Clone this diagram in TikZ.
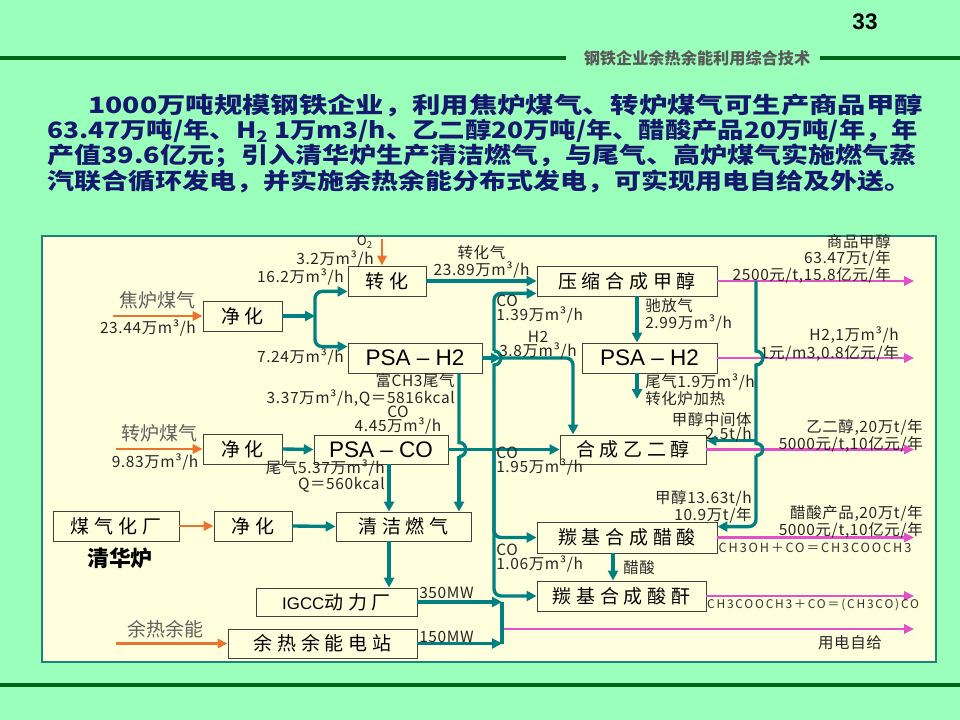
\documentclass[tikz,border=0pt]{standalone}
\usepackage{fontspec}
\setmainfont{Noto Sans CJK SC}
\newfontfamily\boxfont[LetterSpace=25]{Noto Sans CJK SC}
\newfontfamily\lblfont[LetterSpace=4]{Noto Sans CJK SC}
\newfontfamily\chemfont[LetterSpace=15]{Noto Sans CJK SC}
\newfontfamily\headfont[FakeStretch=1.2]{Noto Sans CJK SC}
\newfontfamily\headwide[FakeStretch=1.26]{Noto Sans CJK SC}
\newfontfamily\headnarrow[FakeStretch=1.17]{Noto Sans CJK SC}
\newfontfamily\latinfont{Liberation Sans}
\usetikzlibrary{positioning, arrows.meta, calc}

\definecolor{bggreen}{RGB}{153,255,187}
\definecolor{panelyellow}{RGB}{255,255,222}
\definecolor{panelline}{RGB}{30,130,120}
\definecolor{flowteal}{RGB}{0,128,128}
\definecolor{prodpink}{RGB}{228,80,200}
\definecolor{feedorange}{RGB}{236,115,45}
\definecolor{rulegreen}{RGB}{0,100,20}
\definecolor{headblue}{RGB}{20,25,110}
\definecolor{feedgray}{RGB}{95,95,95}

\begin{document}
\begin{tikzpicture}[x=0.025cm, y=-0.025cm,
    box/.style={draw=black!75, fill=panelyellow, line width=0.6pt, inner sep=0pt,
        minimum height=0.75cm, font=\boxfont\fontsize{13.5}{14}\selectfont},
    psabox/.style={box, font=\latinfont\fontsize{16}{16}\selectfont},
    head/.style={anchor=west, inner sep=0pt, text=headblue, font=\headfont\bfseries\fontsize{16}{18}\selectfont},
    lbl/.style={inner sep=0pt, text=black!85, font=\lblfont\fontsize{11}{10}\selectfont},
    feedlbl/.style={inner sep=0pt, text=feedgray, font=\fontsize{13.5}{14}\selectfont},
    chem/.style={inner sep=0pt, text=black!80, font=\chemfont\fontsize{9}{9}\selectfont},
    pipe/.style={draw=flowteal, line width=2.4pt},
    flow/.style={pipe, -{Triangle[length=7pt, width=7pt]}},
    prod/.style={draw=prodpink, line width=2pt, -{Triangle[length=7pt, width=6.5pt]}},
    feed/.style={draw=feedorange, line width=2pt, -{Triangle[length=7pt, width=6.5pt]}}
    ]

    % Slide
    \fill[bggreen] (0,0) rectangle (960,720);
    \useasboundingbox (0,0) rectangle (960,720);
    \draw[rulegreen, line width=2.8pt] (0,58) -- (566,58) (820,58) -- (960,58);
    \draw[rulegreen, line width=2.8pt] (0,685) -- (960,685);
    \node[font=\latinfont\bfseries\fontsize{16}{16}\selectfont] (pgnum) at (865,22) {33};
    \node[text=black!65, font=\bfseries\fontsize{11.5}{12}\selectfont] (subtitle) at (697,58) {钢铁企业余热余能利用综合技术};

    % Headline
    \node[head, font=\headwide\bfseries\fontsize{16}{18}\selectfont] (hd1) at (88,106) {1000万吨规模钢铁企业，利用焦炉煤气、转炉煤气可生产商品甲醇};
    \node[head, font=\headnarrow\bfseries\fontsize{16}{18}\selectfont] (hd2) at (47,131) {63.47万吨/年、H\textsubscript{2} 1万m3/h、乙二醇20万吨/年、醋酸产品20万吨/年，年};
    \node[head] (hd3) at (47,156) {产值39.6亿元；引入清华炉生产清洁燃气，与尾气、高炉煤气实施燃气蒸};
    \node[head] (hd4) at (47,181) {汽联合循环发电，并实施余热余能分布式发电，可实现用电自给及外送。};

    % Panel
    \draw[panelline, fill=panelyellow, line width=1.6pt] (42,236) rectangle (936,662);

    % Units
    \node[box, minimum width=1.95cm] (conv) at (387,281) {转化};
    \node[box, minimum width=4.5cm] (mesyn) at (627,281) {压缩合成甲醇};
    \node[box, minimum width=1.975cm] (purA) at (242.5,316) {净化};
    \node[psabox, minimum width=3.35cm] (psaA) at (415,358) {PSA – H2};
    \node[psabox, minimum width=3.375cm] (psaB) at (649.5,358) {PSA – H2};
    \node[box, minimum width=1.975cm] (purB) at (242.5,449) {净化};
    \node[psabox, minimum width=3.35cm, minimum height=0.725cm] (psaCO) at (381,449.5) {PSA – CO};
    \node[box, minimum width=3.65cm, minimum height=0.725cm] (egsyn) at (633,449.5) {合成乙二醇};
    \node[box, minimum width=3.15cm] (gasif) at (116,526) {煤气化厂};
    \node[box, minimum width=1.95cm] (purC) at (253,526) {净化};
    \node[box, minimum width=3.375cm, minimum height=0.725cm] (clean) at (403.5,526.5) {清洁燃气};
    \node[box, minimum width=4.5cm, minimum height=0.775cm] (acsyn) at (627,537.5) {羰基合成醋酸};
    \node[box, minimum width=4.225cm] (ahsyn) at (621.5,596) {羰基合成酸酐};
    \node[box, minimum width=4.025cm, minimum height=0.7cm] (igcc) at (336.5,602) {{\latinfont\fontsize{12}{12}\selectfont IGCC}动力厂};
    \node[box, minimum width=4.725cm, minimum height=0.725cm] (whp) at (322.5,643.5) {余热余能电站};

    % Junction lines
    \coordinate (splitA) at (315,316);
    \coordinate (coX) at (494,0);
    \coordinate (ch3X) at (459,0);
    \coordinate (tailX) at (389,0);
    \coordinate (h2X) at (573,0);
    \coordinate (purgeX) at (637,0);
    \coordinate (meX) at (756,0);
    \coordinate (acX) at (613,0);
    \coordinate (pwX) at (502,0);
    \coordinate (outR) at (914,0);

    % Coke oven gas
    \coordinate (o2) at (382,239);
    \draw[feed] (o2) -- (o2 |- conv.north);
    \node[lbl, anchor=east, font=\lblfont\fontsize{9.5}{10}\selectfont] (lO2) at (373,242) {O\textsubscript{2}};
    \coordinate (cokeIn) at (113,316);
    \draw[feed] (cokeIn) -- (purA.west)
        node[midway, above=4pt, feedlbl] (lCoke) {焦炉煤气}
        node[midway, below=2pt, xshift=-7pt, lbl] (lCokeQ) {23.44万m³/h};
    \draw[flow] (purA.east) -- (splitA);
    \coordinate (convIn) at ($(conv.south west)+(0,-5)$);
    \coordinate (psaAIn) at ($(psaA.north west)+(0,4)$);
    \draw[flow, rounded corners=5pt] (splitA) |- (convIn);
    \draw[flow, rounded corners=5pt] (splitA) |- (psaAIn);
    \node[lbl, anchor=east] (lO2Q) at (374,259) {3.2万m³/h};
    \node[lbl, anchor=east] (lConvQ) at (344,277) {16.2万m³/h};
    \node[lbl, anchor=east] (lPsaQ) at (344,357) {7.24万m³/h};
    \draw[flow] (conv.east) -- (mesyn.west)
        node[midway, above=1pt, lbl, align=center] (lConv) {转化气\\23.89万m³/h};

    % CO header
    \coordinate (coJ) at (psaCO.east -| coX);
    \coordinate (coH2) at (psaA.east -| coX);
    \coordinate (mesynCO) at ($(mesyn.south west)+(0,-3)$);
    \draw[pipe] (coJ) -- ($(coH2)+(0,7)$) .. controls +(9,0) and +(9,0) .. ($(coH2)+(0,-7)$);
    \draw[flow, rounded corners=5pt] ($(coH2)+(0,-7)$) |- (mesynCO);
    \draw[flow, rounded corners=5pt] (coJ) |- (acsyn.west);
    \draw[flow, rounded corners=5pt] (coJ) |- (ahsyn.west);
    \node[lbl, anchor=west, align=left] (lCoMe) at (496,309) {CO\\1.39万m³/h};

    % H2 to glycol
    \coordinate (h2Tip) at ($(coH2)+(7,0)$);
    \draw[flow] (psaA.east) -- (h2Tip);
    \draw[flow, rounded corners=5pt] (h2Tip) -| (egsyn.north -| h2X);
    \node[lbl, align=center] (lH2) at (538,345) {H2\\3.8万m³/h};

    % CH3 tail gas
    \coordinate (ch3J) at (psaCO.east -| ch3X);
    \draw[pipe] (psaA.south -| ch3X) -- ($(ch3J)+(0,-7)$) .. controls +(9,0) and +(9,0) .. ($(ch3J)+(0,7)$);
    \draw[flow] ($(ch3J)+(0,7)$) -- (clean.north -| ch3X);
    \node[lbl, anchor=east, align=right] (lCh3) at (455,390) {富CH3尾气\\3.37万m³/h,Q＝5816kcal};

    % Converter gas
    \coordinate (bofIn) at (116,449);
    \draw[feed] (bofIn) -- (purB.west)
        node[midway, above=4pt, feedlbl] (lBof) {转炉煤气}
        node[midway, below=2pt, xshift=-3pt, lbl] (lBofQ) {9.83万m³/h};
    \draw[flow] (purB.east) -- (psaCO.west);
    \draw[flow] (psaCO.east) -- (egsyn.west);
    \node[lbl, align=center] (lCo) at (398,420) {CO\\4.45万m³/h};
    \node[lbl, anchor=west, align=left] (lCoEg) at (496,461) {CO\\1.95万m³/h};
    \draw[flow] (psaCO.south -| tailX) -- (clean.north -| tailX);
    \node[lbl, anchor=east, align=right] (lTail) at (385,476) {尾气5.37万m³/h\\Q＝560kcal};

    % Gasifier and power
    \draw[feed] (gasif.east) -- (purC.west);
    \draw[flow] (purC.east) -- (clean.west);
    \node[font=\bfseries\fontsize{15.5}{16}\selectfont, inner sep=0pt] (lThu) at (120,558) {清华炉};
    \draw[flow] (clean.south -| tailX) -- (igcc.north -| tailX);
    \coordinate (pwOut) at (502,629);
    \draw[prod] (pwOut) -- (pwOut -| outR);
    \draw[pipe] (igcc.east -| pwX) -- (whp.east -| pwX);
    \draw[flow] (igcc.east) -- (igcc.east -| pwX);
    \draw[flow] (whp.east) -- (whp.east -| pwX);
    \node[lbl, anchor=west] (lIgcc) at (419,593) {350MW};
    \node[lbl, anchor=west] (lWhp) at (419,637) {150MW};
    \node[lbl] (lSelf) at (850,643) {用电自给};
    \coordinate (wasteIn) at (116,643.5);
    \draw[feed] (wasteIn) -- (whp.west)
        node[pos=0.44, above=3pt, feedlbl] (lWaste) {余热余能};

    % Methanol side
    \draw[flow] (mesyn.south -| purgeX) -- (psaB.north -| purgeX);
    \node[lbl, anchor=west, align=left] (lPurge) at (645,315) {驰放气\\2.99万m³/h};
    \coordinate (heatOut) at (637,399);
    \draw[flow] (psaB.south -| purgeX) -- (heatOut);
    \node[lbl, anchor=west, align=left] (lHeat) at (645,390) {尾气1.9万m³/h\\转化炉加热};
    \draw[flow] (acsyn.south -| acX) -- (ahsyn.north -| acX);
    \node[lbl, anchor=west] (lAc) at (623,568) {醋酸};

    % Products
    \draw[prod] (mesyn.east) -- (mesyn.east -| outR);
    \draw[prod] (psaB.east) -- (psaB.east -| outR);
    \draw[prod] (egsyn.east) -- (egsyn.east -| outR);
    \draw[prod] (acsyn.east) -- (acsyn.east -| outR);
    \draw[prod] (ahsyn.east) -- (ahsyn.east -| outR);
    \node[lbl, anchor=east, align=right] (lMe) at (891,259) {商品甲醇\\63.47万t/年\\2500元/t,15.8亿元/年};
    \node[lbl, anchor=east, align=right] (lH2p) at (899,344) {H2,1万m³/h\\1元/m3,0.8亿元/年};
    \node[lbl, anchor=east, align=right] (lEg) at (923,436) {乙二醇,20万t/年\\5000元/t,10亿元/年};
    \node[lbl, anchor=east, align=right] (lAcp) at (923,522) {醋酸产品,20万t/年\\5000元/t,10亿元/年};
    \node[chem] (rAc) at (815,548) {CH3OH＋CO＝CH3COOCH3};
    \node[chem, font=\chemfont\fontsize{8.5}{9}\selectfont] (rAh) at (813,605) {CH3COOCH3＋CO＝(CH3CO)CO};

    % Methanol header
    \coordinate (meTop) at (mesyn.east -| meX);
    \coordinate (meH2) at (psaB.east -| meX);
    \coordinate (meEG) at (egsyn.east -| meX);
    \coordinate (egIn) at ($(egsyn.north east)+(0,6)$);
    \coordinate (acIn) at ($(acsyn.north east)+(0,5)$);
    \draw[pipe] (meTop) -- ($(meH2)+(0,-7)$) .. controls +(9,0) and +(9,0) .. ($(meH2)+(0,7)$)
        -- ($(meEG)+(0,-6)$) .. controls +(9,0) and +(9,0) .. ($(meEG)+(0,6)$);
    \draw[flow, rounded corners=5pt] ($(meEG)+(0,6)$) |- (acIn);
    \draw[flow] (egIn -| meX) -- (egIn);
    \node[lbl, anchor=east, align=right] (lMeEg) at (752,427) {甲醇中间体\\2.5t/h};
    \node[lbl, anchor=east, align=right] (lMeAc) at (752,507) {甲醇13.63t/h\\10.9万t/年};
    \node[lbl, anchor=west, align=left] (lCoAc) at (496,558) {CO\\1.06万m³/h};

\end{tikzpicture}
\end{document}
